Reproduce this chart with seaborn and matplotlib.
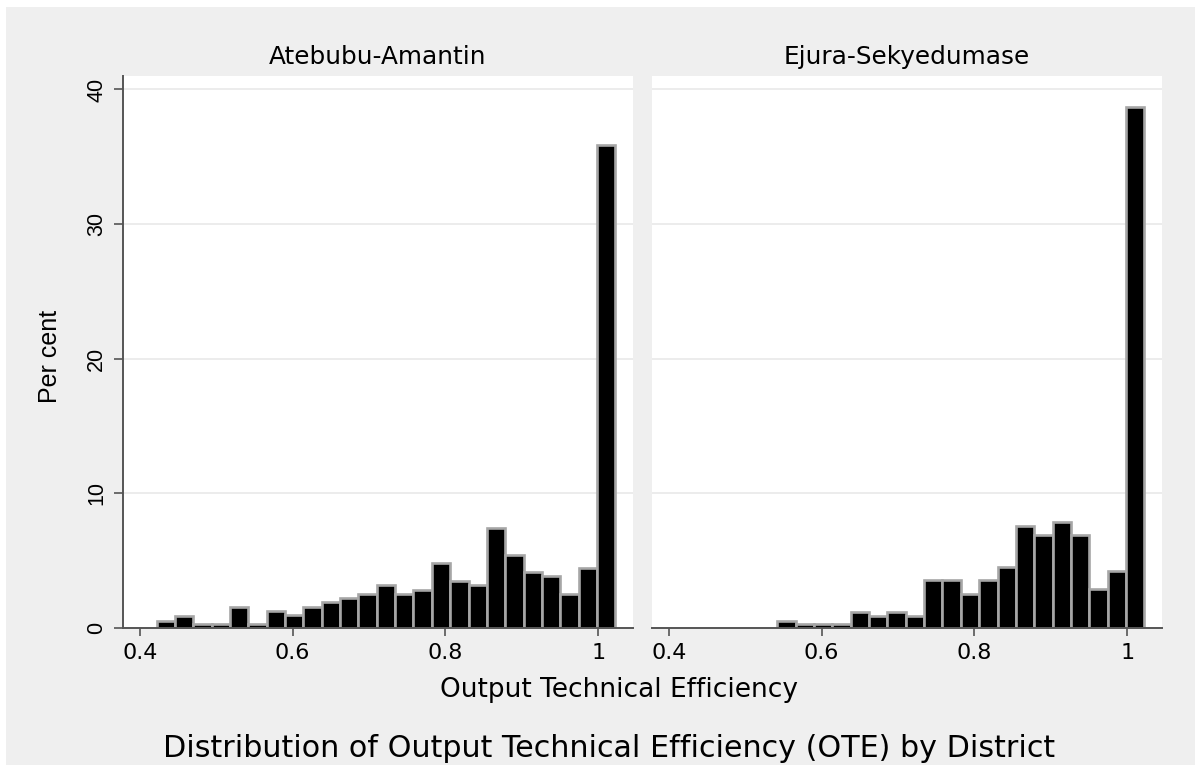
import numpy as np
import pandas as pd
import matplotlib
matplotlib.use("Agg")
import matplotlib.pyplot as plt
from matplotlib.patches import Rectangle
import seaborn as sns

# ---- data (percent of farmers per OTE bin) ----
districts = ["Atebubu-Amantin", "Ejura-Sekyedumase"]
bin_width = 0.024
atebubu_first_edge = 0.4222
ejura_first_edge = 0.5422
atebubu_pct = [0.55, 0.9, 0.3, 0.3, 1.55, 0.3, 1.25, 0.95, 1.55, 1.9, 2.2, 2.5,
               3.2, 2.5, 2.85, 4.85, 3.5, 3.2, 7.45, 5.45, 4.15, 3.85, 2.55, 4.45, 35.9]
ejura_pct = [0.55, 0.3, 0.3, 0.3, 1.2, 0.9, 1.2, 0.9, 3.6, 3.6, 2.55, 3.6,
             4.55, 7.6, 6.9, 7.9, 6.9, 2.9, 4.25, 38.7]
x_ticks = [0.4, 0.6, 0.8, 1.0]
x_tick_labels = ["0.4", "0.6", "0.8", "1"]
y_ticks = [0, 10, 20, 30, 40]
x_title = "Output Technical Efficiency"
y_title = "Per cent"
main_title = "Distribution of Output Technical Efficiency (OTE) by District"

def make_frame(first_edge, pct):
    n = len(pct)
    edges = [first_edge + bin_width * k for k in range(n + 1)]
    centers = [(edges[k] + edges[k + 1]) / 2 for k in range(n)]
    return pd.DataFrame({"ote": centers, "pct": pct}), edges

sns.set_theme(style="white")
plt.rcParams["font.family"] = ["DejaVu Sans"]
plt.rcParams["text.color"] = "black"
plt.rcParams["axes.labelcolor"] = "black"
plt.rcParams["xtick.color"] = "black"
plt.rcParams["ytick.color"] = "black"
VFONT = ["Liberation Sans", "DejaVu Sans"]   # for vertical text

BG = "#EFEFEF"
fig = plt.figure(figsize=(11.95, 7.65), dpi=100, facecolor=BG)
W, H = 1195, 765
# thin white margin at top and left like the reference
fig.patches.append(Rectangle((0, 1 - 7 / H), 1, 7 / H, transform=fig.transFigure,
                             facecolor="white", edgecolor="none", zorder=-10))
fig.patches.append(Rectangle((0, 0), 6 / W, 1, transform=fig.transFigure,
                             facecolor="white", edgecolor="none", zorder=-10))

panel_lefts = [123, 652]
panel_w = 510
top_px, bot_px = 76, 628
panel_h = bot_px - top_px
datasets = [(atebubu_first_edge, atebubu_pct), (ejura_first_edge, ejura_pct)]

for i, (name, (fe, pct)) in enumerate(zip(districts, datasets)):
    ax = fig.add_axes([panel_lefts[i] / W, (H - bot_px) / H, panel_w / W, panel_h / H])
    ax.set_facecolor("white")
    df, edges = make_frame(fe, pct)
    sns.histplot(data=df, x="ote", weights="pct", bins=edges, ax=ax,
                 color="black", edgecolor="#A6A6A6", linewidth=1.9, alpha=1, zorder=3)
    ax.set_xlim(0.378, 1.0455)
    ax.set_ylim(0, 41)
    ax.set_yticks(y_ticks)
    ax.set_xticks(x_ticks)
    ax.set_xticklabels(x_tick_labels)
    ax.grid(axis="y", color="#EBEBEB", linewidth=1.3, zorder=0)
    ax.grid(axis="x", visible=False)
    ax.set_axisbelow(True)
    for s in ["top", "right"]:
        ax.spines[s].set_visible(False)
    ax.spines["bottom"].set_color("#555555")
    ax.spines["bottom"].set_linewidth(1.4)
    ax.spines["bottom"].set_zorder(5)
    ax.tick_params(axis="x", bottom=True, length=6, width=1.2, color="#555555",
                   labelsize=16, pad=4.5, labelcolor="black")
    if i == 0:
        ax.spines["left"].set_color("#555555")
        ax.spines["left"].set_linewidth(1.4)
        ax.tick_params(axis="y", left=True, length=6.5, width=1.2, color="#555555",
                       labelsize=15.5, pad=5, labelcolor="black")
        for lbl in ax.get_yticklabels():
            lbl.set_rotation(90)
            lbl.set_va("center")
            lbl.set_family(VFONT)
    else:
        ax.spines["left"].set_visible(False)
        ax.tick_params(axis="y", left=False, labelleft=False)
    ax.set_xlabel("")
    ax.set_ylabel("")
    ax.set_title(name, fontsize=17.8, y=1 + 12 / panel_h, pad=0, va="baseline", color="black")

fig.text(50 / W, 1 - 356 / H, y_title, rotation=90, ha="center", va="center",
         fontsize=18, family=VFONT, color="black")
fig.text(619 / W, 1 - 697 / H, x_title, ha="center", va="baseline", fontsize=19, color="black")
fig.text(609.5 / W, 1 - 757 / H, main_title, ha="center", va="baseline", fontsize=21.7,
         color="black")

fig.savefig("out.png", dpi=100, facecolor=BG)
